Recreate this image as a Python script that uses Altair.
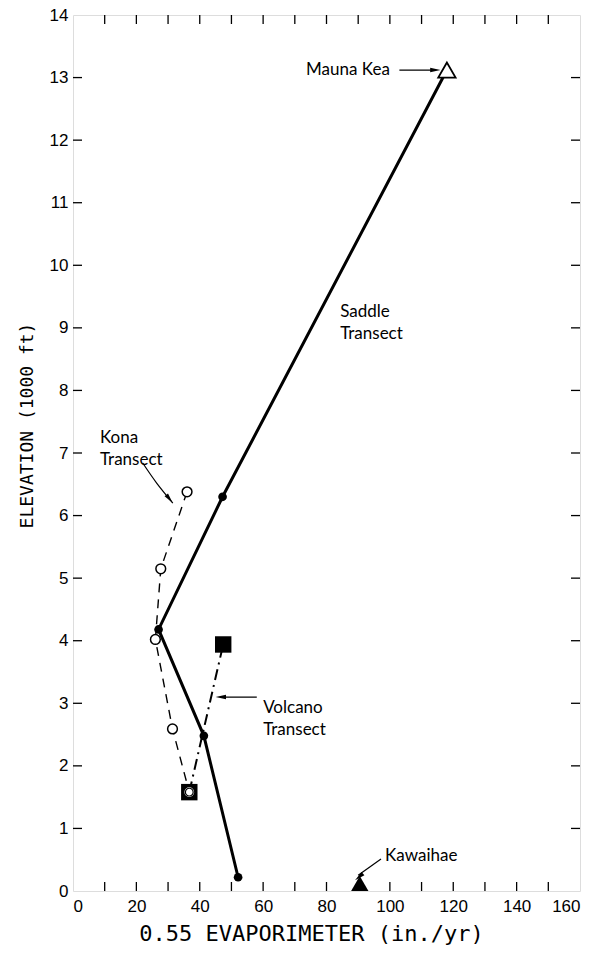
import altair as alt
import pandas as pd

# Saddle transect (solid line, filled circles; Mauna Kea open triangle at top)
saddle_x = [118.0, 47.2, 27.0, 41.3, 52.1]
saddle_y = [13.12, 6.3, 4.18, 2.48, 0.22]
# Kona transect (dashed line, open circles)
kona_x = [36.0, 27.7, 26.0, 31.4, 36.7]
kona_y = [6.38, 5.15, 4.02, 2.59, 1.58]
# Volcano transect (dash-dot line, squares)
volcano_x = [36.7, 47.4]
volcano_y = [1.58, 3.94]
# Kawaihae (filled triangle)
kawaihae_x = [90.5]
kawaihae_y = [0.12]

x_label_values = list(range(0, 161, 20))
x_minor_ticks = list(range(10, 160, 10))
y_label_values = list(range(0, 15))
y_minor_ticks = list(range(1, 14))

W, H = 507, 876
TICK = 9

rows = []
for name, xs, ys in [("Saddle", saddle_x, saddle_y), ("Kona", kona_x, kona_y),
                     ("Volcano", volcano_x, volcano_y)]:
    for i, (a, b) in enumerate(zip(xs, ys)):
        rows.append({"series": name, "order": i, "x": a, "y": b})
df = pd.DataFrame(rows)

xscale = alt.Scale(domain=[0, 160], nice=False, zero=False)
yscale = alt.Scale(domain=[0, 14], nice=False, zero=False)

xaxis = alt.Axis(values=x_label_values, format="d", ticks=False, domain=False, grid=False,
                 labelFont="Liberation Sans", labelFontSize=17, labelPadding=7,
                 labelColor="black", title="0.55 EVAPORIMETER (in./yr)",
                 titleFont="DejaVu Sans Mono", titleFontSize=22, titleFontWeight="normal",
                 titleColor="black", titlePadding=9, titleX=238)
yaxis = alt.Axis(values=y_label_values, format="d", ticks=False, domain=False, grid=False,
                 labelFont="Liberation Sans", labelFontSize=17, labelPadding=5,
                 labelColor="black", title="ELEVATION (1000 ft)",
                 titleFont="DejaVu Sans Mono", titleFontSize=18, titleFontWeight="normal",
                 titleColor="black", titlePadding=13, titleY=410)


def X(field="x"):
    return alt.X(f"{field}:Q", scale=xscale, axis=xaxis)


def Y(field="y"):
    return alt.Y(f"{field}:Q", scale=yscale, axis=yaxis)


def sub(name):
    return alt.Chart(df).transform_filter(alt.datum.series == name)


saddle_line = sub("Saddle").mark_line(color="black", strokeWidth=3).encode(
    x=X(), y=Y(), order="order:Q")
kona_line = sub("Kona").mark_line(color="black", strokeWidth=1.4, strokeDash=[9, 7]).encode(
    x=X(), y=Y(), order="order:Q")
volcano_line = sub("Volcano").mark_line(color="black", strokeWidth=2,
                                         strokeDash=[11, 5, 2, 5]).encode(
    x=X(), y=Y(), order="order:Q")

saddle_pts = sub("Saddle").transform_filter(alt.datum.order > 0).mark_point(
    shape="circle", filled=True, color="black", size=75, opacity=1).encode(x=X(), y=Y())
mauna_kea = sub("Saddle").transform_filter(alt.datum.order == 0).mark_point(
    shape="triangle-up", filled=True, fill="white", stroke="black", strokeWidth=1.8,
    size=300, opacity=1).encode(x=X(), y=Y())
kona_pts = sub("Kona").mark_point(shape="circle", filled=True, fill="white", stroke="black",
                                  strokeWidth=1.5, size=95, opacity=1).encode(x=X(), y=Y())
volcano_sq = sub("Volcano").mark_point(shape="square", filled=True, color="black",
                                       size=270, opacity=1).encode(x=X(), y=Y())
volcano_inner = sub("Volcano").transform_filter(alt.datum.order == 0).mark_point(
    shape="circle", filled=True, fill="white", stroke="white", size=60, opacity=1).encode(
    x=X(), y=Y())
kona_inner = sub("Kona").transform_filter(alt.datum.order == 4).mark_point(
    shape="circle", filled=False, stroke="black", strokeWidth=1.2, size=60, opacity=1).encode(
    x=X(), y=Y())

kaw_df = pd.DataFrame({"x": kawaihae_x, "y": kawaihae_y})
kawaihae = alt.Chart(kaw_df).mark_point(shape="triangle-up", filled=True, color="black",
                                        size=300, opacity=1).encode(x=X(), y=Y())

# inward ticks on all four sides
xt = alt.Chart(pd.DataFrame({"v": x_minor_ticks}))
yt = alt.Chart(pd.DataFrame({"v": y_minor_ticks}))
ticks = [
    xt.mark_rule(color="black", strokeWidth=1.3).encode(x=X("v"), y=alt.value(H), y2=alt.value(H - TICK)),
    xt.mark_rule(color="black", strokeWidth=1.3).encode(x=X("v"), y=alt.value(0), y2=alt.value(TICK)),
    yt.mark_rule(color="black", strokeWidth=1.3).encode(y=Y("v"), x=alt.value(0), x2=alt.value(TICK)),
    yt.mark_rule(color="black", strokeWidth=1.3).encode(y=Y("v"), x=alt.value(W), x2=alt.value(W - TICK)),
]

FONT = "Lato"
FS = 17


def label(text, x, y, align="left"):
    return alt.Chart(kaw_df).mark_text(text=text, font=FONT, fontSize=FS, align=align,
                                       baseline="middle", color="black", lineHeight=22).encode(
        x=alt.datum(x), y=alt.datum(y))


def shaft(x1, y1, x2, y2):
    return alt.Chart(kaw_df).mark_rule(color="black", strokeWidth=1.2).encode(
        x=alt.datum(x1), y=alt.datum(y1), x2=alt.datum(x2), y2=alt.datum(y2))


HEAD = "M0,0L0.55,2.6L-0.55,2.6Z"


def head(x, y, angle):
    return alt.Chart(kaw_df).mark_point(shape=HEAD, filled=True, color="black", size=64,
                                        angle=angle, opacity=1).encode(
        x=alt.datum(x), y=alt.datum(y))


kona_curve_df = pd.DataFrame({"x": [22.0, 26.4, 31.5], "y": [6.84, 6.52, 6.20]})
kona_curve = alt.Chart(kona_curve_df).mark_line(color="black", strokeWidth=1.2,
                                                interpolate="natural").encode(x=X(), y=Y())

annotations = [
    label("Mauna Kea", 100.0, 13.12, "right"),
    shaft(103.0, 13.12, 114.5, 13.12), head(116.0, 13.12, 90),
    label(["Saddle", "Transect"], 84.3, 9.26),
    label(["Kona", "Transect"], 8.5, 7.24),
    kona_curve, head(31.5, 6.20, 141),
    label(["Volcano", "Transect"], 60.0, 2.92),
    shaft(58.0, 3.10, 46.5, 3.10), head(45.0, 3.10, 270),
    label("Kawaihae", 98.5, 0.56),
    shaft(97.2, 0.51, 90.0, 0.25), head(89.0, 0.17, 230),
]

chart = alt.layer(
    *ticks,
    kona_line, volcano_line, saddle_line,
    saddle_pts, kona_pts, volcano_sq, volcano_inner, kona_inner, mauna_kea, kawaihae,
    *annotations,
).properties(
    width=W, height=H,
    autosize=alt.AutoSizeParams(type="none"),
    padding={"left": 73, "top": 15, "right": 17, "bottom": 67},
).configure_view(stroke="black", strokeWidth=2.5).configure(background="white")

chart.save("out.html", embed_options={"renderer": "svg", "actions": False})
